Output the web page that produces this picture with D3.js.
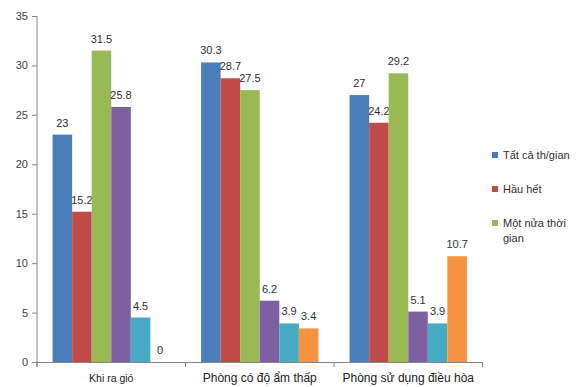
<!DOCTYPE html>
<html><head><meta charset="utf-8">
<script src="https://cdn.jsdelivr.net/npm/d3@7"></script>
<style>body{margin:0;background:#fff}svg{display:block;font-family:"Liberation Sans",Arial,sans-serif}</style>
</head><body><svg id="c" width="581" height="387"></svg>
<script>
const categories = ["Khi ra gió", "Phòng có độ ẩm thấp", "Phòng sử dụng điều hòa"];
const seriesNames = ["Tất cả th/gian", "Hầu hết", "Một nửa thời gian", "Thỉnh thoảng", "Hiếm khi", "Không bao giờ"];
const s1 = [23, 30.3, 27];
const s2 = [15.2, 28.7, 24.2];
const s3 = [31.5, 27.5, 29.2];
const s4 = [25.8, 6.2, 5.1];
const s5 = [4.5, 3.9, 3.9];
const s6 = [0, 3.4, 10.7];
const yTicks = [0, 5, 10, 15, 20, 25, 30, 35];
const colors = ["#4A7EBB", "#BE4B48", "#98B954", "#7D60A0", "#46AAC5", "#F69240"];

const series = [s1, s2, s3, s4, s5, s6];
const svg = d3.select("#c");
const x0 = 37, x1 = 482.5, yTop = 16, yBot = 362;
const x = d3.scaleBand().domain(categories).range([x0, x1]).paddingInner(0.21).paddingOuter(0.105);
const xs = d3.scaleBand().domain(d3.range(series.length)).range([0, x.bandwidth()]);
const y = d3.scaleLinear().domain([0, 35]).range([yBot, yTop]);

// y axis
const ya = svg.append("g").attr("transform", `translate(${x0},0)`)
  .call(d3.axisLeft(y).tickValues(yTicks).tickSize(5).tickPadding(4));
ya.select(".domain").attr("stroke", "#868686").attr("d", `M0,${yTop}V${yBot + 5}`);
ya.selectAll(".tick line").attr("stroke", "#868686");
ya.selectAll("text").attr("fill", "#404040").style("font-size", "11px");

// x axis
svg.append("line").attr("x1", x0).attr("x2", x1).attr("y1", yBot + 0.5).attr("y2", yBot + 0.5).attr("stroke", "#868686");
const bounds = [x0].concat(categories.map(c => x(c) + x.bandwidth() + (x.step() - x.bandwidth()) / 2));
bounds.forEach(b => svg.append("line").attr("x1", b).attr("x2", b).attr("y1", yBot).attr("y2", yBot + 5).attr("stroke", "#868686"));
svg.selectAll(".cat").data(categories).enter().append("text")
  .attr("x", d => x(d) + x.bandwidth() / 2).attr("y", 382).attr("text-anchor", "middle")
  .attr("fill", "#202020").style("font-size", (d, i) => i === 0 ? "10.5px" : "12px").text(d => d);

// bars
series.forEach((s, si) => {
  const g = svg.append("g");
  g.selectAll("rect").data(s).enter().append("rect")
    .attr("x", (d, i) => x(categories[i]) + xs(si)).attr("width", xs.bandwidth())
    .attr("y", d => y(d)).attr("height", d => yBot - y(d)).attr("fill", colors[si]);
  g.selectAll("text").data(s).enter().append("text")
    .attr("x", (d, i) => x(categories[i]) + xs(si) + xs.bandwidth() / 2)
    .attr("y", d => y(d) - 8).attr("text-anchor", "middle")
    .attr("fill", "#303030").style("font-size", "11px").text(d => d);
});

// legend (only first three visible)
const lg = svg.append("g");
const legendY = [155, 189, 223];
[0, 1, 2].forEach(i => {
  lg.append("rect").attr("x", 492).attr("y", legendY[i] - 3).attr("width", 6).attr("height", 6).attr("fill", colors[i]);
  const t = lg.append("text").attr("x", 503).attr("y", legendY[i] + 4).attr("fill", "#303030").style("font-size", "11px");
  if (i === 2) {
    t.append("tspan").attr("x", 503).text("Một nửa thời");
    t.append("tspan").attr("x", 503).attr("dy", 15).text("gian");
  } else t.text(seriesNames[i]);
});
</script></body></html>
